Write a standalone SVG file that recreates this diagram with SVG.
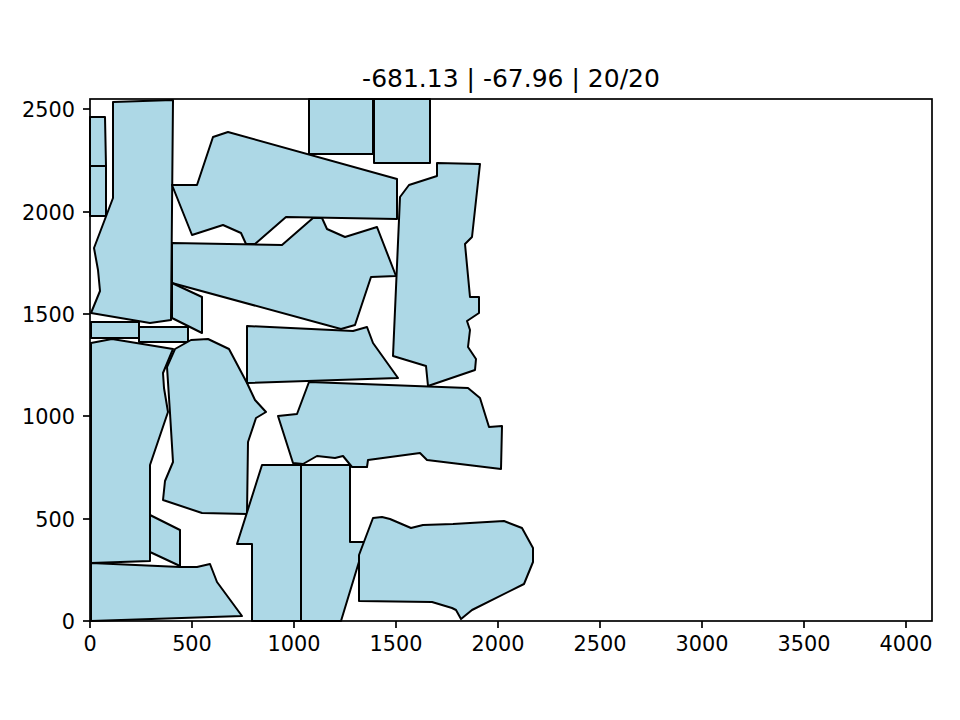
<svg xmlns="http://www.w3.org/2000/svg" width="960" height="720" viewBox="0 0 960 720">
<style>
.p{fill:#ADD8E6;stroke:#000;stroke-width:2;stroke-linejoin:round}
.t{font-family:"DejaVu Sans",sans-serif;font-size:20.8px;fill:#000}
.tk{stroke:#000;stroke-width:1.7}
</style>
<rect width="960" height="720" fill="#fff"/>
<g id="nodes">
<polygon id="n1" class="p" points="90,117 105,117 106,166 90,166"/>
<polygon id="n2" class="p" points="90,166 106,166 106,216 90,216"/>
<polygon id="n3" class="p" points="113,102 173,100 171,320 150,323 91,313 100,291 98,270 94,248 113,198"/>
<polygon id="n4" class="p" points="172,185 197,185 213,137 228,132 397,179 397,219 286,217 255,244 246,244 241,233 223,225 192,235"/>
<polygon id="n5" class="p" points="172,243 282,245 313,218 322,218 327,229 345,237 377,227 396,276 371,277 355,325 341,329 172,283"/>
<polygon id="n6" class="p" points="437,163 480,164 472,237 465,244 470,297 479,297 479,313 467,321 470,330 468,347 476,359 475,370 428,386 426,366 393,356 400,197 409,185 437,176"/>
<polygon id="n7" class="p" points="309,99 373,99 373,154 309,154"/>
<polygon id="n8" class="p" points="374,99 430,99 430,163 374,163"/>
<polygon id="n9" class="p" points="91,322 139,322 139,338 91,338"/>
<polygon id="n10" class="p" points="139,327 188,327 188,342 139,342"/>
<polygon id="n11" class="p" points="172,283 202,297 202,333 172,318"/>
<polygon id="n12" class="p" points="91,343 112,339 173,349 163,373 164,388 168,412 150,465 150,561 91,563"/>
<polygon id="n13" class="p" points="175,349 191,340 208,339 229,349 247,383 255,400 266,412 256,418 248,442 247,514 202,513 163,500 165,481 173,462 170,413 167,367"/>
<polygon id="n14" class="p" points="247,326 353,331 367,327 373,343 398,378 247,383"/>
<polygon id="n15" class="p" points="309,382 468,388 480,398 489,427 502,426 501,469 427,460 420,453 368,460 367,467 352,467 343,456 335,458 317,456 303,464 293,463 278,416 297,414"/>
<polygon id="n16" class="p" points="262,465 301,465 301,621 252,621 252,544 237,544"/>
<polygon id="n17" class="p" points="301,465 350,465 350,542 365,542 341,621 301,621"/>
<polygon id="n18" class="p" points="373,518 382,517 390,519 411,528 423,525 453,524 504,521 522,528 533,548 533,562 524,584 472,610 461,619 456,610 452,608 432,602 359,601 359,555"/>
<polygon id="n19" class="p" points="150,515 180,530 180,566 150,552"/>
<polygon id="n20" class="p" points="91,563 180,567 197,567 210,564 217,582 242,616 91,621"/>
</g>
<g id="connectors"></g>
<g id="axes">
<rect x="90" y="99" width="842" height="522" fill="none" stroke="#000" stroke-width="1.7"/>
<g class="tk">
<line x1="90" y1="621" x2="90" y2="628"/><line x1="192" y1="621" x2="192" y2="628"/><line x1="294" y1="621" x2="294" y2="628"/><line x1="396" y1="621" x2="396" y2="628"/><line x1="498" y1="621" x2="498" y2="628"/><line x1="600" y1="621" x2="600" y2="628"/><line x1="702" y1="621" x2="702" y2="628"/><line x1="804" y1="621" x2="804" y2="628"/><line x1="906" y1="621" x2="906" y2="628"/>
<line x1="83" y1="621" x2="90" y2="621"/><line x1="83" y1="519" x2="90" y2="519"/><line x1="83" y1="416" x2="90" y2="416"/><line x1="83" y1="314" x2="90" y2="314"/><line x1="83" y1="212" x2="90" y2="212"/><line x1="83" y1="109" x2="90" y2="109"/>
</g>
<g class="t" text-anchor="middle">
<text x="90" y="651">0</text><text x="192" y="651">500</text><text x="294" y="651">1000</text><text x="396" y="651">1500</text><text x="498" y="651">2000</text><text x="600" y="651">2500</text><text x="702" y="651">3000</text><text x="804" y="651">3500</text><text x="906" y="651">4000</text>
</g>
<g class="t" text-anchor="end">
<text x="75" y="628.5">0</text><text x="75" y="526.5">500</text><text x="75" y="423.5">1000</text><text x="75" y="321.5">1500</text><text x="75" y="219.5">2000</text><text x="75" y="116.5">2500</text>
</g>
<text x="511" y="86.5" text-anchor="middle" style="font-family:'DejaVu Sans',sans-serif;font-size:25px">-681.13 | -67.96 | 20/20</text>
</g>
</svg>
